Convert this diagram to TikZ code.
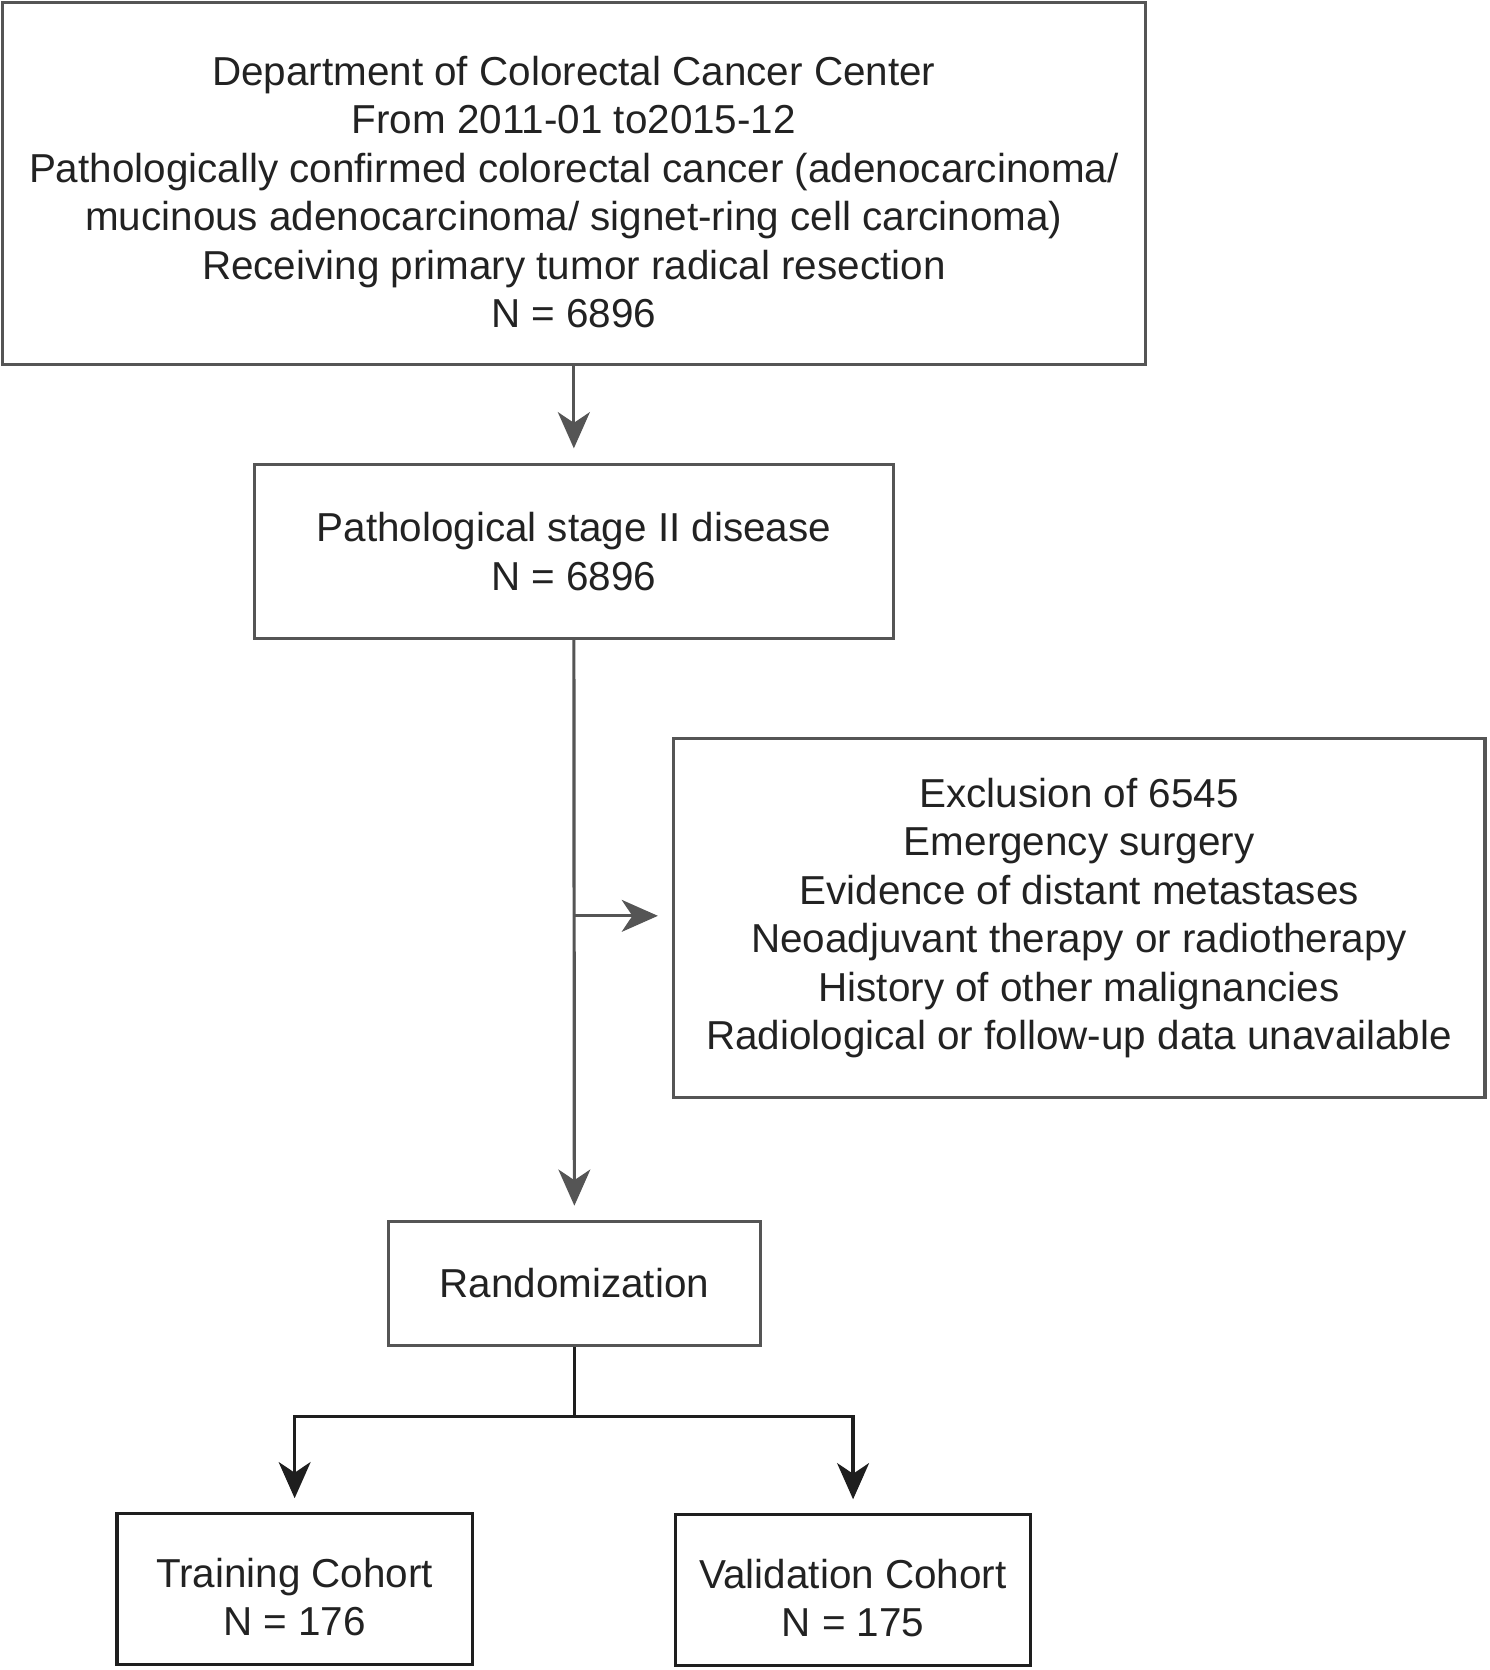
\documentclass[tikz,border=0pt]{standalone}
\usepackage{fontspec}
\setmainfont{Liberation Sans}
\usetikzlibrary{arrows.meta}
\definecolor{lg}{HTML}{555555}
\definecolor{dk}{HTML}{1E1E1E}
\definecolor{tx}{HTML}{222222}
\begin{document}
\begin{tikzpicture}[x=0.5pt,y=-0.5pt,
  box/.style={draw=lg,line width=1.5pt,inner sep=0pt,align=center,text=tx,
    font=\fontsize{19pt}{22.8pt}\selectfont},
  dbox/.style={box,draw=dk},
  arr/.style={draw=lg,line width=1.5pt,-{Stealth[length=17pt,width=15pt,inset=5pt]}},
  darr/.style={arr,draw=dk},
  ln/.style={draw=lg,line width=1.5pt}]
\useasboundingbox (0,0) rectangle (1400,1570);
\node[box,minimum width=537.5pt,minimum height=170.5pt] (top) at (539.5,172.5)
 {\rule{0pt}{22pt}Department of Colorectal Cancer Center\\From 2011-01 to2015-12\\Pathologically confirmed colorectal cancer (adenocarcinoma/\\mucinous adenocarcinoma/ signet-ring cell carcinoma)\\Receiving primary tumor radical resection\\N = 6896};
\node[box,minimum width=300.5pt,minimum height=81.5pt] (stage) at (539.5,518.5)
 {Pathological stage II disease\\N = 6896};
\node[box,minimum width=381.5pt,minimum height=169pt] (excl) at (1014.5,863)
 {Exclusion of 6545\\Emergency surgery\\Evidence of distant metastases\\Neoadjuvant therapy or radiotherapy\\History of other malignancies\\Radiological or follow-up data unavailable};
\node[box,minimum width=175pt,minimum height=58.5pt] (rand) at (540,1206.5) {Randomization};
\node[dbox,minimum width=167pt,minimum height=71pt] (train) at (277,1494) {\rule{0pt}{21pt}Training Cohort\\N = 176};
\node[dbox,minimum width=167pt,minimum height=71pt] (valid) at (802,1495) {\rule{0pt}{21pt}Validation Cohort\\N = 175};
\draw[arr,shorten >=7pt] (top.south) -- (stage.north);
\draw[arr,shorten >=6.5pt] (stage.south) -- (rand.north);
\coordinate (j) at (540,861);
\draw[arr,shorten >=6.5pt] (j) -- (excl.west |- j);
\coordinate (split) at (540,1332);
\draw[ln,draw=dk] (rand.south) -- (split);
\draw[darr,shorten >=6.5pt] (split) -| (train.north);
\draw[darr,shorten >=6.5pt] (split) -| (valid.north);
\end{tikzpicture}
\end{document}
